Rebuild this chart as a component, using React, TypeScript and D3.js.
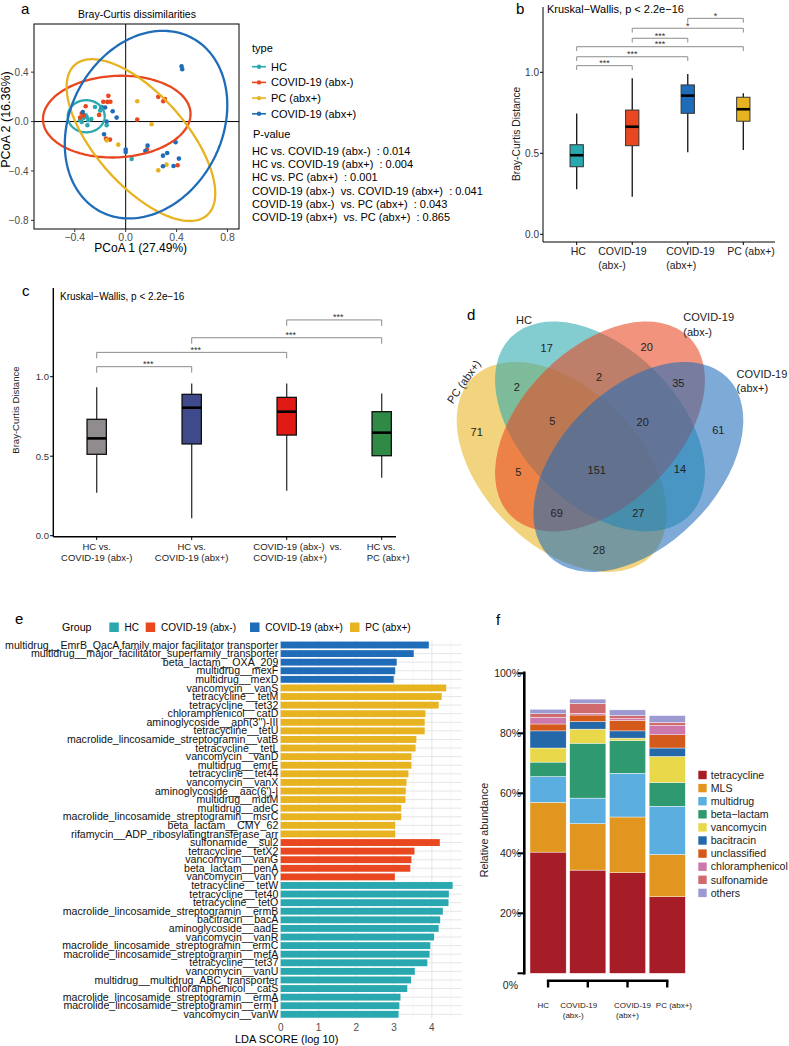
import React from 'react';
import * as d3 from 'd3';

const FONT = '"Liberation Sans", Arial, Helvetica, sans-serif';
const W = 789;
const H = 1046;

const colHC = '#2aa8b0';
const colNeg = '#e8471f';
const colPos = '#1f6cb8';
const colPC = '#e8b320';

// ---------- a: PCoA ----------
const typeNames = ['HC', 'COVID-19 (abx-)', 'PC (abx+)', 'COVID-19 (abx+)'];
const typeColors = [colHC, colNeg, colPC, colPos];
const hcPts = [[-0.314, 0.05], [-0.306, 0.037], [-0.293, 0.011], [-0.345, -0.003], [-0.301, -0.03], [-0.358, 0.011], [-0.33, 0.03], [-0.27, 0.02], [-0.241, 0.118], [-0.19, 0.11], [-0.2, 0.09], [-0.149, -0.03], [0.047, -0.303]];
const negPts = [[-0.136, 0.208], [-0.314, 0.124], [-0.345, 0.065], [-0.358, 0.032], [-0.209, 0.054], [-0.144, 0.159], [-0.176, 0.16], [-0.12, 0.16], [0.256, 0.2], [0.295, 0.165], [0.308, 0.183], [0.091, 0.016], [-0.155, -0.138], [-0.123, -0.146], [0.167, -0.227], [0.408, -0.354], [-0.33, 0.05]];
const pcPts = [[0.091, 0.165], [0.204, -0.022], [-0.058, -0.187], [-0.149, -0.152], [0.256, -0.395], [0.321, -0.349]];
const posPts = [[0.439, 0.448], [0.444, 0.424], [-0.337, 0.078], [-0.162, 0.114], [-0.19, 0.118], [-0.102, 0.084], [-0.071, 0.032], [0.0, -0.227], [0.0, -0.246], [0.172, -0.195], [0.154, -0.238], [0.293, -0.276], [0.326, -0.254], [0.392, -0.168], [0.418, -0.3], [0.293, -0.362], [0.376, -0.36], [-0.17, -0.103], [-0.15, 0.0]];
// centre x, centre y, semi-axis a, semi-axis b, angle (deg)
const hcEllipse = [-0.31, 0.043, 0.145, 0.13, 0];
const negEllipse = [-0.07, 0.04, 0.58, 0.33, 3];
const pcEllipse = [0.12, -0.15, 0.8, 0.36, -50];
const posEllipse = [0.16, -0.025, 0.79, 0.6, 65];
const pValueLines = [
  'HC vs. COVID-19 (abx-)  : 0.014',
  'HC vs. COVID-19 (abx+)  : 0.004',
  'HC vs. PC (abx+)  : 0.001',
  'COVID-19 (abx-)  vs. COVID-19 (abx+)  : 0.041',
  'COVID-19 (abx-)  vs. PC (abx+)  : 0.043',
  'COVID-19 (abx+)  vs. PC (abx+)  : 0.865',
];

// ---------- b: boxplot ----------
const bCats = [['HC'], ['COVID-19', '(abx-)'], ['COVID-19', '(abx+)'], ['PC (abx+)']];
const bLabelDx = [-6, -34, -21.6, -16];
// min, q1, median, q3, max
const bStats = [
  [0.278, 0.417, 0.488, 0.553, 0.745],
  [0.232, 0.547, 0.664, 0.767, 0.963],
  [0.506, 0.747, 0.856, 0.922, 0.99],
  [0.52, 0.698, 0.772, 0.846, 0.87],
];
const bColors = [colHC, colNeg, colPos, colPC];
// from, to, height, label
const bSig = [
  [0, 1, 1.041, '***'],
  [0, 2, 1.096, '***'],
  [0, 3, 1.158, '***'],
  [1, 2, 1.21, '***'],
  [1, 3, 1.272, '*'],
  [2, 3, 1.333, '*'],
];

// ---------- c: boxplot of pairs ----------
const cCats = [['HC vs.', 'COVID-19 (abx-)'], ['HC vs.', 'COVID-19 (abx+)'], ['COVID-19 (abx-)  vs.', 'COVID-19 (abx+)'], ['HC vs.', 'PC (abx+)']];
const cLabelAlign = [['middle', 0], ['middle', 0], ['start', -33.4], ['start', -15]];
const cStats = [
  [0.27, 0.512, 0.612, 0.732, 0.933],
  [0.109, 0.577, 0.805, 0.889, 0.958],
  [0.283, 0.633, 0.78, 0.87, 0.958],
  [0.365, 0.503, 0.648, 0.78, 0.895],
];
const cColors = ['#8f8b8f', '#3e4a8b', '#e01b17', '#2f8a46'];
const cSig = [
  [0, 1, 1.063, '***'],
  [0, 2, 1.153, '***'],
  [1, 3, 1.245, '***'],
  [2, 3, 1.357, '***'],
];

// ---------- d: venn ----------
const vennNames = ['PC (abx+)', 'HC', 'COVID-19 (abx-)', 'COVID-19 (abx+)'];
const vennColors = [colPC, colHC, colNeg, colPos];
const vennCentres = [[0.358, 0.4], [0.5, 0.55], [0.5, 0.55], [0.642, 0.4]];
const vennTilt = [45, 45, -45, -45];
const vennAxes = [0.467, 0.29];
const vennCounts = [17, 20, 2, 2, 35, 71, 5, 20, 61, 5, 151, 14, 69, 27, 28];
const vennSpots = [[0.3026, 0.8396], [0.673, 0.8456], [0.1915, 0.6974], [0.4963, 0.7322], [0.79, 0.71], [0.0433, 0.5307], [0.3233, 0.5715], [0.658, 0.5678], [0.938, 0.537], [0.197, 0.3826], [0.4878, 0.3889], [0.796, 0.391], [0.3396, 0.2285], [0.642, 0.2285], [0.496, 0.0926]];

// ---------- e: LEfSe ----------
const eLabels = [
  'multidrug__EmrB_QacA family major facilitator transporter',
  'multidrug__major_facilitator_superfamily_transporter',
  'beta_lactam__OXA_209',
  'multidrug__mexF',
  'multidrug__mexD',
  'vancomycin__vanS',
  'tetracycline__tetM',
  'tetracycline__tet32',
  'chloramphenicol__catD',
  "aminoglycoside__aph(3'')-III",
  'tetracycline__tetU',
  'macrolide_lincosamide_streptogramin__vatB',
  'tetracycline__tetL',
  'vancomycin__vanD',
  'multidrug__emrE',
  'tetracycline__tet44',
  'vancomycin__vanX',
  "aminoglycoside__aac(6')-I",
  'multidrug__mdtM',
  'multidrug__adeC',
  'macrolide_lincosamide_streptogramin__msrC',
  'beta_lactam__CMY_62',
  'rifamycin__ADP_ribosylatingtransferase_arr',
  'sulfonamide__sul2',
  'tetracycline__tetX2',
  'vancomycin__vanG',
  'beta_lactam__penA',
  'vancomycin__vanY',
  'tetracycline__tetW',
  'tetracycline__tet40',
  'tetracycline__tetO',
  'macrolide_lincosamide_streptogramin__ermB',
  'bacitracin__bacA',
  'aminoglycoside__aadE',
  'vancomycin__vanR',
  'macrolide_lincosamide_streptogramin__ermC',
  'macrolide_lincosamide_streptogramin__mefA',
  'tetracycline__tet37',
  'vancomycin__vanU',
  'multidrug__multidrug_ABC_transporter',
  'chloramphenicol__catS',
  'macrolide_lincosamide_streptogramin__ermA',
  'macrolide_lincosamide_streptogramin__ermT',
  'vancomycin__vanW',
];
const eScores = [3.92, 3.52, 3.07, 3.03, 2.99,
  4.38, 4.26, 4.18, 3.83, 3.81, 3.81, 3.59, 3.57, 3.46, 3.46, 3.38, 3.33, 3.31, 3.3, 3.19, 3.19, 3.03, 3.03,
  4.21, 3.54, 3.46, 3.43, 3.02,
  4.55, 4.45, 4.44, 4.29, 4.22, 4.18, 4.06, 3.96, 3.94, 3.88, 3.55, 3.45, 3.35, 3.17, 3.14, 3.12];
const eGroups = ['abx+', 'abx+', 'abx+', 'abx+', 'abx+',
  'PC', 'PC', 'PC', 'PC', 'PC', 'PC', 'PC', 'PC', 'PC', 'PC', 'PC', 'PC', 'PC', 'PC', 'PC', 'PC', 'PC', 'PC',
  'abx-', 'abx-', 'abx-', 'abx-', 'abx-',
  'HC', 'HC', 'HC', 'HC', 'HC', 'HC', 'HC', 'HC', 'HC', 'HC', 'HC', 'HC', 'HC', 'HC', 'HC', 'HC'];
const eGroupKeys = ['HC', 'abx-', 'abx+', 'PC'];
const eGroupNames = ['HC', 'COVID-19 (abx-)', 'COVID-19 (abx+)', 'PC (abx+)'];
const eGroupColors = [colHC, colNeg, colPos, colPC];
const eLegendX = [109.3, 145.7, 250, 350];
const eTicks = [0, 1, 2, 3, 4];

// ---------- f: stacked bars ----------
const fCats = ['HC', 'COVID-19 (abx-)', 'COVID-19 (abx+)', 'PC (abx+)'];
const fCatLines = [['HC'], ['COVID-19', '(abx-)'], ['COVID-19', '(abx+)'], ['PC (abx+)']];
const fCatDx = [[-4.7], [-9, -14.6], [5, 0], [6.7]];
const fClasses = ['tetracycline', 'MLS', 'multidrug', 'beta−lactam', 'vancomycin', 'bacitracin', 'unclassified', 'chloramphenicol', 'sulfonamide', 'others'];
const fColors = ['#a61d27', '#e0961f', '#5aaee0', '#2f9a70', '#e8d84a', '#2468a9', '#d35a1b', '#cd78aa', '#cf6b6f', '#9c9ad1'];
const tetracycline = [40.4, 34.4, 33.5, 25.5];
const mls = [16.6, 15.5, 18.6, 14.1];
const multidrug = [8.6, 8.5, 14.6, 16.1];
const betaLactam = [4.8, 18.3, 10.9, 7.9];
const vancomycin = [4.7, 4.7, 0.8, 8.7];
const bacitracin = [5.7, 2.5, 2.4, 2.8];
const unclassified = [2.3, 2.2, 3.5, 4.4];
const chloramphenicol = [2.2, 0.6, 0.6, 3.1];
const sulfonamide = [1.2, 3.3, 1.0, 1.0];
const others = [1.5, 1.4, 1.9, 2.3];
const fTicks = [20, 40, 60, 80, 100];

function PanelLetter({ x, y, t }) {
  return <text x={x} y={y} fontSize={15} fill="#000">{t}</text>;
}

function PanelA() {
  const x = d3.scaleLinear().domain([-0.72, 0.89]).range([34, 239]);
  const y = d3.scaleLinear().domain([-0.87, 0.79]).range([229, 24]);
  const line = d3.line().x(d => x(d[0])).y(d => y(d[1])).curve(d3.curveLinearClosed);
  const ellipsePath = ([cx, cy, a, b, ang]) => {
    const th = (ang * Math.PI) / 180;
    const pts = d3.range(0, 2 * Math.PI, Math.PI / 90).map(t => {
      const ex = a * Math.cos(t);
      const ey = b * Math.sin(t);
      return [cx + ex * Math.cos(th) - ey * Math.sin(th), cy + ex * Math.sin(th) + ey * Math.cos(th)];
    });
    return line(pts);
  };
  const sets = [hcPts, negPts, pcPts, posPts];
  const ells = [hcEllipse, negEllipse, pcEllipse, posEllipse];
  const xt = [-0.4, 0, 0.4, 0.8];
  const yt = [-0.8, -0.4, 0, 0.4];
  const fmt = v => (v === 0 ? '0.0' : (v < 0 ? '−' : '') + Math.abs(v).toFixed(1));
  return (
    <g>
      <PanelLetter x={21} y={14} t="a" />
      <text x={137} y={18} fontSize={10.5} textAnchor="middle">Bray-Curtis dissimilarities</text>
      <line x1={x(0)} x2={x(0)} y1={24} y2={229} stroke="#000" strokeWidth={1} />
      <line x1={34} x2={239} y1={y(0)} y2={y(0)} stroke="#000" strokeWidth={1} />
      {sets.map((pts, i) => pts.map((p, j) => (
        <circle key={i + '-' + j} cx={x(p[0])} cy={y(p[1])} r={2.3} fill={typeColors[i]} />
      )))}
      {ells.map((e, i) => (
        <path key={i} d={ellipsePath(e)} fill="none" stroke={typeColors[i]} strokeWidth={2.3} />
      ))}
      <rect x={34} y={24} width={205} height={205} fill="none" stroke="#000" strokeWidth={1} />
      {xt.map(v => (
        <g key={v}>
          <line x1={x(v)} x2={x(v)} y1={229} y2={232} stroke="#333" />
          <text x={x(v)} y={240.5} fontSize={10.5} textAnchor="middle" fill="#4d4d4d">{fmt(v)}</text>
        </g>
      ))}
      {yt.map(v => (
        <g key={v}>
          <line x1={31} x2={34} y1={y(v)} y2={y(v)} stroke="#333" />
          <text x={28.5} y={y(v) + 3.8} fontSize={10} textAnchor="end" fill="#4d4d4d">{fmt(v)}</text>
        </g>
      ))}
      <text x={140.7} y={251.5} fontSize={12} textAnchor="middle">PCoA 1 (27.49%)</text>
      <text transform={`translate(10,${y(0) - 2}) rotate(-90)`} fontSize={12.5} textAnchor="middle">PCoA 2 (16.36%)</text>
      <text x={252} y={52} fontSize={11}>type</text>
      {typeNames.map((n, i) => (
        <g key={n} transform={`translate(252,${66.7 + i * 15.7})`}>
          <line x1={0} x2={14} y1={0} y2={0} stroke={typeColors[i]} strokeWidth={1.6} />
          <circle cx={7} cy={0} r={2.2} fill={typeColors[i]} />
          <text x={19} y={4} fontSize={11}>{n}</text>
        </g>
      ))}
      <text x={253} y={138.2} fontSize={11}>P-value</text>
      {pValueLines.map((s, i) => (
        <text key={i} x={252} y={154.6 + i * 13.3} fontSize={11} style={{ whiteSpace: 'pre' }}>{s}</text>
      ))}
    </g>
  );
}

function Box({ cx, y, s, w, fill, stroke, sw, wc }) {
  return (
    <g>
      <line x1={cx} x2={cx} y1={y(s[0])} y2={y(s[1])} stroke={wc} strokeWidth={1.3} />
      <line x1={cx} x2={cx} y1={y(s[3])} y2={y(s[4])} stroke={wc} strokeWidth={1.3} />
      <rect x={cx - w / 2} y={y(s[3])} width={w} height={y(s[1]) - y(s[3])} fill={fill} stroke={stroke} strokeWidth={sw} />
      <line x1={cx - w / 2} x2={cx + w / 2} y1={y(s[2])} y2={y(s[2])} stroke="#000" strokeWidth={2.6} />
    </g>
  );
}

function Brackets({ sig, x, y, tick, dx, fs }) {
  return (
    <g>
      {sig.map(([a, b, h, lab], i) => {
        const yy = y(h);
        return (
          <g key={i}>
            <path d={`M${x(a)},${yy + tick}V${yy}H${x(b)}V${yy + tick}`} fill="none" stroke="#8c8c8c" strokeWidth={1} />
            <text x={(x(a) + x(b)) / 2 + dx} y={yy + 0.5} fontSize={fs} textAnchor="middle" fill="#333">{lab}</text>
          </g>
        );
      })}
    </g>
  );
}

function PanelB() {
  const x = d3.scalePoint().domain(d3.range(4)).range([576.7, 743.3]);
  const y = d3.scaleLinear().domain([0, 1]).range([234.3, 72.3]);
  return (
    <g>
      <PanelLetter x={516} y={14} t="b" />
      <text x={547} y={13} fontSize={11}>Kruskal−Wallis, p &lt; 2.2e−16</text>
      <Brackets sig={bSig} x={x} y={y} tick={4.3} dx={0} fs={9} />
      {bStats.map((s, i) => (
        <Box key={i} cx={x(i)} y={y} s={s} w={13.3} fill={bColors[i]} stroke="#333" sw={1} wc="#111" />
      ))}
      <line x1={543} x2={543} y1={7} y2={242} stroke="#000" strokeWidth={1} />
      <line x1={543} x2={775} y1={242} y2={242} stroke="#000" strokeWidth={1} />
      {[0, 0.5, 1].map(v => (
        <g key={v}>
          <line x1={540} x2={543} y1={y(v)} y2={y(v)} stroke="#000" />
          <text x={539} y={y(v) + 3.6} fontSize={10} textAnchor="end" fill="#333">{v.toFixed(1)}</text>
        </g>
      ))}
      {bCats.map((lines, i) => (
        <g key={i}>
          <line x1={x(i)} x2={x(i)} y1={242} y2={245} stroke="#000" />
          {lines.map((l, j) => (
            <text key={j} x={x(i) + bLabelDx[i]} y={254.5 + j * 14.3} fontSize={10.5} fill="#222">{l}</text>
          ))}
        </g>
      ))}
      <text transform={`translate(520,${y(0.62)}) rotate(-90)`} fontSize={10.3} textAnchor="middle" fill="#222">Bray-Curtis Distance</text>
    </g>
  );
}

function PanelC() {
  const x = d3.scalePoint().domain(d3.range(4)).range([96.7, 381.7]);
  const y = d3.scaleLinear().domain([0, 1]).range([535.7, 376.7]);
  return (
    <g>
      <PanelLetter x={22} y={296} t="c" />
      <text x={60} y={300} fontSize={10}>Kruskal−Wallis, p &lt; 2.2e−16</text>
      <Brackets sig={cSig} x={x} y={y} tick={6} dx={4} fs={9} />
      {cStats.map((s, i) => (
        <Box key={i} cx={x(i)} y={y} s={s} w={19.3} fill={cColors[i]} stroke="#111" sw={1.3} wc="#333" />
      ))}
      <line x1={53.3} x2={53.3} y1={288} y2={536.7} stroke="#000" strokeWidth={1.4} />
      <line x1={53.3} x2={396} y1={536.7} y2={536.7} stroke="#000" strokeWidth={1.4} />
      {[0, 0.5, 1].map(v => (
        <g key={v}>
          <line x1={50} x2={53.3} y1={y(v)} y2={y(v)} stroke="#000" />
          <text x={49} y={y(v) + 3.4} fontSize={9.5} textAnchor="end" fill="#333">{v.toFixed(1)}</text>
        </g>
      ))}
      {cCats.map((lines, i) => (
        <g key={i}>
          <line x1={x(i)} x2={x(i)} y1={536.7} y2={540} stroke="#000" />
          {lines.map((l, j) => (
            <text key={j} x={x(i) + cLabelAlign[i][1]} y={549.5 + j * 11.3} fontSize={9.5} textAnchor={cLabelAlign[i][0]} fill="#222" style={{ whiteSpace: 'pre' }}>{l}</text>
          ))}
        </g>
      ))}
      <text transform={`translate(19,${y(0.79)}) rotate(-90)`} fontSize={9.5} textAnchor="middle" fill="#222">Bray-Curtis Distance</text>
    </g>
  );
}

function PanelD() {
  const vx = d3.scaleLinear().domain([0, 1]).range([465, 735]);
  const vy = d3.scaleLinear().domain([0, 1]).range([575, 305]);
  const rx = vx(vennAxes[0]) - vx(0);
  const ry = vx(vennAxes[1]) - vx(0);
  return (
    <g>
      <PanelLetter x={467} y={320} t="d" />
      {vennNames.map((n, i) => (
        <ellipse key={n} cx={vx(vennCentres[i][0])} cy={vy(vennCentres[i][1])} rx={rx} ry={ry}
          transform={`rotate(${vennTilt[i]},${vx(vennCentres[i][0])},${vy(vennCentres[i][1])})`}
          fill={vennColors[i]} fillOpacity={0.58} />
      ))}
      {vennCounts.map((c, i) => (
        <text key={i} x={vx(vennSpots[i][0])} y={vy(vennSpots[i][1]) + 4} fontSize={11} textAnchor="middle" fill="#222">{c}</text>
      ))}
      <text x={vx(0.2185)} y={vy(0.9459) + 4} fontSize={11} textAnchor="middle" fill="#222">HC</text>
      <text x={vx(0.8085)} y={vy(0.9567) + 4} fontSize={11} fill="#222">COVID-19</text>
      <text x={vx(0.8085)} y={vy(0.9) + 4} fontSize={11} fill="#222">(abx-)</text>
      <text x={vx(1.006)} y={vy(0.744) + 4} fontSize={11} fill="#222">COVID-19</text>
      <text x={vx(1.006)} y={vy(0.6926) + 4} fontSize={11} fill="#222">(abx+)</text>
      <text transform={`translate(${vx(-0.005)},${vy(0.716)}) rotate(-55)`} y={4} fontSize={11} textAnchor="middle" fill="#222">PC (abx+)</text>
    </g>
  );
}

function PanelE() {
  const x = d3.scaleLinear().domain([0, 4.79]).range([280.7, 461.7]);
  const y = d3.scaleBand().domain(d3.range(eLabels.length)).range([640.7, 1018.6]).paddingInner(0.2).paddingOuter(0.1);
  const top = 640.7;
  const bot = 1018.6;
  const minor = [0.5, 1.5, 2.5, 3.5, 4.5];
  return (
    <g>
      <PanelLetter x={15} y={624} t="e" />
      <text x={62} y={630.5} fontSize={10.6}>Group</text>
      {eGroupNames.map((n, i) => (
        <g key={n}>
          <rect x={eLegendX[i]} y={622.5} width={9.5} height={9.5} fill={eGroupColors[i]} />
          <text x={eLegendX[i] + 15.3} y={630.5} fontSize={10}>{n}</text>
        </g>
      ))}
      {minor.map(v => <line key={'m' + v} x1={x(v)} x2={x(v)} y1={top} y2={bot} stroke="#f3f3f3" strokeWidth={0.8} />)}
      {eTicks.map(v => <line key={'t' + v} x1={x(v)} x2={x(v)} y1={top} y2={bot} stroke="#e6e6e6" strokeWidth={1} />)}
      {eLabels.map((l, i) => (
        <line key={'g' + i} x1={x(0)} x2={x(4.79)} y1={y(i) + y.bandwidth() / 2} y2={y(i) + y.bandwidth() / 2} stroke="#e6e6e6" strokeWidth={1} />
      ))}
      {eLabels.map((l, i) => (
        <g key={i}>
          <rect x={x(0)} y={y(i)} width={x(eScores[i]) - x(0)} height={y.bandwidth()} fill={eGroupColors[eGroupKeys.indexOf(eGroups[i])]} />
          <text x={278.3} y={y(i) + y.bandwidth() / 2 + 3.6} fontSize={10.6} textAnchor="end" fill="#111">{l}</text>
        </g>
      ))}
      {eTicks.map(v => (
        <text key={v} x={x(v)} y={1030.5} fontSize={10} textAnchor="middle" fill="#4d4d4d">{v}</text>
      ))}
      <text x={235} y={1043} fontSize={11}>LDA SCORE (log 10)</text>
    </g>
  );
}

function PanelF() {
  const valueRows = [tetracycline, mls, multidrug, betaLactam, vancomycin, bacitracin, unclassified, chloramphenicol, sulfonamide, others];
  const table = fCats.map((c, j) => {
    const row = { cat: c };
    fClasses.forEach((k, i) => { row[k] = valueRows[i][j]; });
    return row;
  });
  const series = d3.stack().keys(fClasses)(table);
  const x = d3.scaleBand().domain(fCats).range([530, 685.3]).paddingInner(0.09);
  const y = d3.scaleLinear().domain([0, 100]).range([973.3, 673.3]);
  return (
    <g>
      <PanelLetter x={496} y={625} t="f" />
      {series.map((s, i) => s.map((d, j) => (
        <rect key={i + '-' + j} x={x(fCats[j])} y={y(d[1])} width={x.bandwidth()} height={y(d[0]) - y(d[1])}
          fill={fColors[i]} stroke="#fff" strokeWidth={0.4} />
      )))}
      <line x1={524.3} x2={524.3} y1={671.5} y2={974.5} stroke="#000" strokeWidth={2.6} />
      {[0, ...fTicks].map(v => (
        <line key={v} x1={517.5} x2={524.3} y1={y(v)} y2={y(v)} stroke="#000" strokeWidth={2} />
      ))}
      {fTicks.map(v => (
        <text key={v} x={521} y={y(v) + 3.7} fontSize={10.5} textAnchor="end" fill="#222">{v}%</text>
      ))}
      <text x={518} y={988.5} fontSize={10.5} textAnchor="end" fill="#222">0%</text>
      <text transform={`translate(487.5,830) rotate(-90)`} fontSize={10.7} textAnchor="middle" fill="#222">Relative abundance</text>
      <line x1={x(fCats[0]) + x.bandwidth() / 2 - 1.2} x2={x(fCats[3]) + x.bandwidth() / 2 + 1.2} y1={980.7} y2={980.7} stroke="#000" strokeWidth={2.6} />
      {fCatLines.map((lines, i) => {
        const cx = x(fCats[i]) + x.bandwidth() / 2;
        return (
          <g key={i}>
            <line x1={cx} x2={cx} y1={980.7} y2={987.5} stroke="#000" strokeWidth={2.4} />
            {lines.map((l, j) => (
              <text key={j} x={cx + fCatDx[i][j]} y={1008 + j * 10} fontSize={8} textAnchor="middle" fill="#222">{l}</text>
            ))}
          </g>
        );
      })}
      {fClasses.map((k, i) => (
        <g key={k}>
          <rect x={698.3} y={770.8 + i * 13.1} width={8.4} height={8.4} fill={fColors[i]} />
          <text x={710.7} y={778.7 + i * 13.1} fontSize={10.6} fill="#222">{k}</text>
        </g>
      ))}
    </g>
  );
}

export default function App() {
  return (
    <svg width={W} height={H} viewBox={`0 0 ${W} ${H}`} fontFamily={FONT}
      style={{ position: 'absolute', left: 0, top: 0, background: '#fff' }}>
      <rect width={W} height={H} fill="#fff" />
      <PanelA />
      <PanelB />
      <PanelC />
      <PanelD />
      <PanelE />
      <PanelF />
    </svg>
  );
}
